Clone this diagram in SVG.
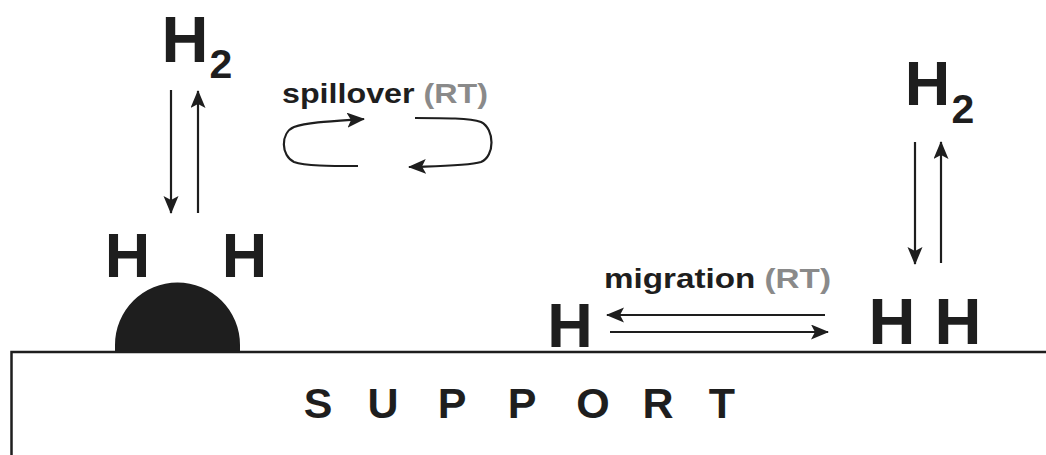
<svg xmlns="http://www.w3.org/2000/svg" width="1046" height="455" viewBox="0 0 1046 455">
  <style>
    .big { font-family: "Liberation Sans", Arial, sans-serif; font-weight: bold; fill: #1e1e1e; text-anchor: middle; }
    .lbl { font-family: "Liberation Sans", Arial, sans-serif; font-weight: bold; font-size: 28px; fill: #1e1e1e; }
    .rt { fill: #8a8a8a; }
    .sup { font-family: "Liberation Sans", Arial, sans-serif; font-weight: bold; font-size: 43px; fill: #1e1e1e; text-anchor: middle; }
    .arr { fill: none; stroke: #1e1e1e; stroke-width: 2.2; marker-end: url(#ah); }
    .edge { fill: none; stroke: #1e1e1e; stroke-width: 2.5; }
  </style>
  <defs>
    <marker id="ah" markerUnits="userSpaceOnUse" markerWidth="19" markerHeight="16" refX="17" refY="7.5" orient="auto">
      <path d="M0,0 L18,7.5 L0,15 L4,7.5 Z" fill="#1e1e1e"/>
    </marker>
  </defs>
  <rect width="1046" height="455" fill="#ffffff"/>

  <g id="support">
    <path class="edge" d="M11.5,455 L11.5,352 L1046,352"/>
    <text class="sup" x="318 383 452 522 593 658 722" y="418">SUPPORT</text>
  </g>

  <g id="particle">
    <path d="M115,352 L115,345 A62.5,62.5 0 0 1 240,345 L240,352 Z" fill="#1e1e1e"/>
  </g>

  <g id="h2-left">
    <text class="big" x="185" y="62" font-size="65">H</text>
    <text class="big" x="221" y="78" font-size="41">2</text>
  </g>
  <g id="hh-left">
    <text class="big" x="127.5" y="277" font-size="63">H</text>
    <text class="big" x="244.5" y="277" font-size="63">H</text>
  </g>
  <g id="h2-right">
    <text class="big" x="927.5" y="105" font-size="63">H</text>
    <text class="big" x="963" y="123" font-size="41">2</text>
  </g>
  <g id="hh-right">
    <text class="big" x="892" y="344" font-size="65">H</text>
    <text class="big" x="958" y="344" font-size="65">H</text>
  </g>
  <g id="h-mid">
    <text class="big" x="570" y="347" font-size="63">H</text>
  </g>

  <g id="label-spillover">
    <text class="lbl" x="282" y="103" textLength="206" lengthAdjust="spacingAndGlyphs">spillover <tspan class="rt">(RT)</tspan></text>
  </g>
  <g id="label-migration">
    <text class="lbl" x="604" y="288" textLength="227" lengthAdjust="spacingAndGlyphs">migration <tspan class="rt">(RT)</tspan></text>
  </g>

  <g id="connectors">
    <path class="arr" d="M171,90 L171,213"/>
    <path class="arr" d="M198,213 L198,91"/>
    <path class="arr" d="M915,142 L915,264"/>
    <path class="arr" d="M941,263 L941,142"/>
    <path class="arr" d="M825,315 L607,315"/>
    <path class="arr" d="M610,332 L828,332"/>
    <path class="arr" d="M358,166 C330,166 305,166 294,162 C281,156 280,133 294,127 C308,122 335,121 364,119"/>
    <path class="arr" d="M415,118 C445,118 470,118 481,122 C495,129 495,156 481,162 C468,166 440,166 409,167"/>
  </g>
</svg>
